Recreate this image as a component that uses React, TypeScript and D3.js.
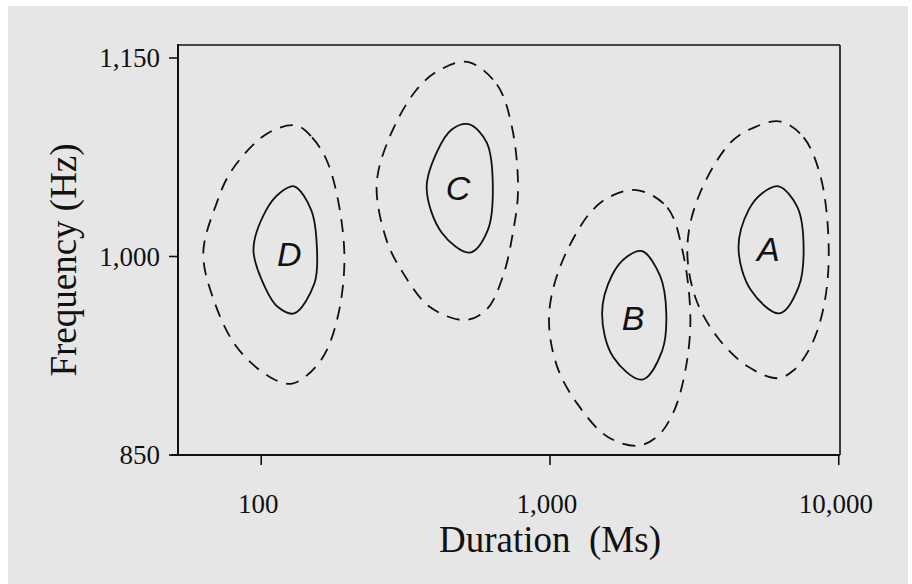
import React from "react";
import * as d3 from "d3";

// Contour outlines in data units: [duration (ms), frequency (Hz)], traced clockwise from the top.
const contourDOuter: [number, number][] = [
  [132, 1099], [150, 1090], [172, 1068], [194, 1003], [182, 950], [159, 920], [128, 904],
  [107, 909], [82, 932], [68, 969], [63, 1003], [70, 1040], [79, 1065], [105, 1093],
];
const contourDInner: [number, number][] = [
  [130, 1053], [149, 1035], [156, 1005], [153, 980], [130, 957], [114, 962], [104, 975],
  [94, 1005], [104, 1035], [116, 1048],
];
const contourCOuter: [number, number][] = [
  [519, 1147], [655, 1130], [738, 1098], [775, 1050], [744, 1018], [687, 985], [604, 960],
  [507, 952], [383, 962], [309, 988], [272, 1012], [251, 1054], [278, 1090], [345, 1126],
  [415, 1141],
];
const contourCInner: [number, number][] = [
  [523, 1100], [604, 1086], [634, 1052], [609, 1020], [528, 1003], [422, 1018], [374, 1052],
  [408, 1080], [457, 1096],
];
const contourBOuter: [number, number][] = [
  [2021, 1050], [2549, 1037], [2873, 1005], [3063, 954], [2943, 914], [2673, 882], [2352, 864],
  [2005, 857], [1577, 864], [1241, 889], [1058, 917], [992, 954], [1083, 992], [1377, 1033],
  [1642, 1046],
];
const contourBInner: [number, number][] = [
  [2087, 1004], [2410, 985], [2528, 957], [2448, 929], [2087, 907], [1655, 924], [1515, 957],
  [1642, 986], [1851, 1000],
];
const contourAOuter: [number, number][] = [
  [6290, 1102], [7557, 1090], [8660, 1060], [9233, 1005], [8870, 962], [7994, 932], [6978, 914],
  [6141, 908], [4831, 917], [3801, 939], [3188, 969], [2990, 1007], [3265, 1045], [4217, 1086],
  [5150, 1098],
];
const contourAInner: [number, number][] = [
  [6190, 1053], [7204, 1037], [7557, 1005], [7262, 977], [6239, 957], [4948, 975], [4497, 1007],
  [4870, 1035], [5445, 1048],
];

const outerContours = [contourDOuter, contourCOuter, contourBOuter, contourAOuter];
const innerContours = [contourDInner, contourCInner, contourBInner, contourAInner];

// Cluster labels placed at the centre of each inner contour.
const clusterLabels = ["D", "C", "B", "A"];
const labelDurations = [125, 480, 1940, 5700];
const labelFrequencies = [1002, 1052, 954, 1006];

const xTickValues = [100, 1000, 10000];
const yTickValues = [850, 1000, 1150];
const xTitle = "Duration\u00a0\u00a0(Ms)";
const yTitle = "Frequency (Hz)";

const W = 912;
const H = 584;

export default function App() {
  const xMin = 51.5;
  const xMax = 10100;
  const x = d3.scaleLog().domain([xMin, xMax]).range([178, 840]);
  const y = d3.scaleLinear().domain([850, 1150]).range([455, 58]);
  const yTop = y.invert(45);

  const fmt = d3.format(",");
  const line = d3
    .line<[number, number]>()
    .x((d) => x(d[0]))
    .y((d) => y(d[1]))
    .curve(d3.curveCatmullRomClosed.alpha(0.5));

  const serif = "'Liberation Serif', 'Times New Roman', serif";
  const sans = "'Liberation Sans', Arial, sans-serif";

  return (
    <svg
      width={W}
      height={H}
      style={{ position: "absolute", left: 0, top: 0, display: "block" }}
    >
      <rect x={0} y={0} width={W} height={H} fill="#ffffff" />
      <rect x={8} y={6} width={900} height={H - 6} fill="#e6e6e6" />

      {/* frame */}
      <line x1={x(xMin)} x2={x(xMax)} y1={y(yTop)} y2={y(yTop)} stroke="#111" strokeWidth={1.6} />
      <line x1={x(xMax)} x2={x(xMax)} y1={y(yTop)} y2={y(850)} stroke="#111" strokeWidth={1.6} />
      <line x1={x(xMin)} x2={x(xMin)} y1={y(yTop) - 1} y2={y(850)} stroke="#111" strokeWidth={2} />
      <line x1={x(xMin) - 7} x2={x(xMax)} y1={y(850)} y2={y(850)} stroke="#111" strokeWidth={2} />

      {/* y ticks */}
      {yTickValues.map((v) => (
        <g key={`y${v}`}>
          <line x1={x(xMin) - 9} x2={x(xMin)} y1={y(v)} y2={y(v)} stroke="#111" strokeWidth={1.6} />
          <text
            x={160}
            y={y(v)}
            dy="0.35em"
            textAnchor="end"
            fontFamily={serif}
            fontSize={27}
            fill="#111"
          >
            {fmt(v)}
          </text>
        </g>
      ))}

      {/* x ticks */}
      {xTickValues.map((v) => (
        <g key={`x${v}`}>
          <line x1={x(v)} x2={x(v)} y1={y(850)} y2={y(850) + 10} stroke="#111" strokeWidth={1.6} />
          <text
            x={x(v) - 3}
            y={513}
            textAnchor="middle"
            fontFamily={serif}
            fontSize={27}
            fill="#111"
          >
            {fmt(v)}
          </text>
        </g>
      ))}

      <text x={550} y={552} textAnchor="middle" fontFamily={serif} fontSize={37} fill="#111">
        {xTitle}
      </text>
      <text
        transform={`translate(76, 260) rotate(-90)`}
        textAnchor="middle"
        fontFamily={serif}
        fontSize={37}
        fill="#111"
      >
        {yTitle}
      </text>

      {/* contours */}
      {outerContours.map((c, i) => (
        <path
          key={`o${i}`}
          d={line(c) ?? ""}
          fill="none"
          stroke="#111"
          strokeWidth={1.8}
          strokeDasharray="13 9"
        />
      ))}
      {innerContours.map((c, i) => (
        <path key={`i${i}`} d={line(c) ?? ""} fill="none" stroke="#111" strokeWidth={1.8} />
      ))}

      {clusterLabels.map((l, i) => (
        <text
          key={l}
          x={x(labelDurations[i])}
          y={y(labelFrequencies[i])}
          dy="0.36em"
          textAnchor="middle"
          fontFamily={sans}
          fontStyle="italic"
          fontSize={34}
          fill="#111"
        >
          {l}
        </text>
      ))}
    </svg>
  );
}
